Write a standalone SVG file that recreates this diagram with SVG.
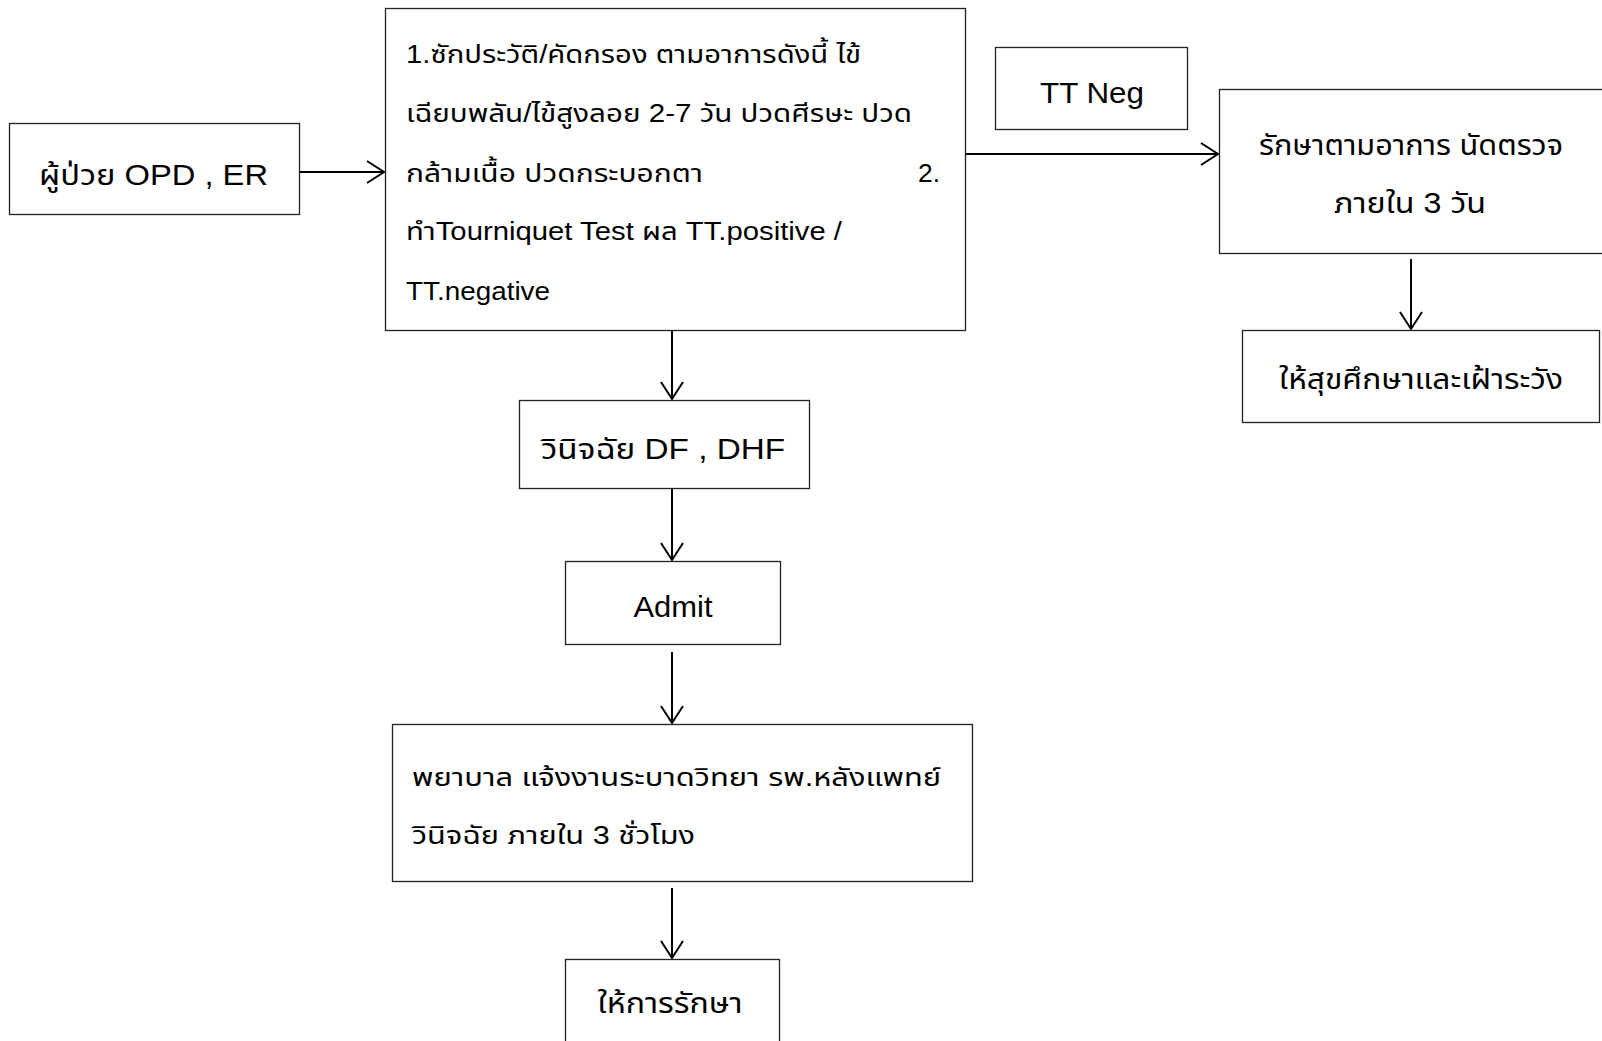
<svg xmlns="http://www.w3.org/2000/svg" width="1602" height="1041" viewBox="0 0 1602 1041">
<style>
.box{fill:#fff;stroke:#222;stroke-width:1.3}
.t{font-family:"Liberation Sans","Noto Sans Thai","Noto Sans",sans-serif;fill:#000}
.big{font-size:29px}
.mid{font-size:25.5px}
.c{text-anchor:middle}
.con{stroke:#000;stroke-width:2;fill:none}
</style>
<defs>
<marker id="arr" markerUnits="userSpaceOnUse" markerWidth="20" markerHeight="26" refX="18" refY="12" orient="auto">
<path d="M1,1 L18,12 L1,23" fill="none" stroke="#000" stroke-width="2"/>
</marker>
</defs>
<rect width="1602" height="1041" fill="#fff"/>
<g id="connectors">
<line class="con" x1="299" y1="172" x2="384" y2="172" marker-end="url(#arr)"/>
<line class="con" x1="966" y1="154" x2="1218" y2="154" marker-end="url(#arr)"/>
<line class="con" x1="1411" y1="259" x2="1411" y2="329" marker-end="url(#arr)"/>
<line class="con" x1="672" y1="330" x2="672" y2="399" marker-end="url(#arr)"/>
<line class="con" x1="672" y1="488" x2="672" y2="560" marker-end="url(#arr)"/>
<line class="con" x1="672" y1="652" x2="672" y2="723" marker-end="url(#arr)"/>
<line class="con" x1="672" y1="888" x2="672" y2="958" marker-end="url(#arr)"/>
</g>
<g id="n1">
<rect class="box" x="9.5" y="123.5" width="290" height="91"/>
<text class="t big" x="39" y="185" textLength="229" lengthAdjust="spacingAndGlyphs">ผู้ป่วย OPD , ER</text>
</g>
<g id="n2">
<rect class="box" x="385.5" y="8.5" width="580" height="322"/>
<text class="t mid" x="406" y="63" textLength="455" lengthAdjust="spacingAndGlyphs">1.ซักประวัติ/คัดกรอง ตามอาการดังนี้ ไข้</text>
<text class="t mid" x="406" y="122" textLength="506" lengthAdjust="spacingAndGlyphs">เฉียบพลัน/ไข้สูงลอย 2-7 วัน ปวดศีรษะ ปวด</text>
<text class="t mid" x="406" y="182" textLength="297" lengthAdjust="spacingAndGlyphs">กล้ามเนื้อ ปวดกระบอกตา</text>
<text class="t mid" x="918" y="182" textLength="22" lengthAdjust="spacingAndGlyphs">2.</text>
<text class="t mid" x="406" y="240" textLength="436" lengthAdjust="spacingAndGlyphs">ทำTourniquet Test ผล TT.positive /</text>
<text class="t mid" x="406" y="300" textLength="144" lengthAdjust="spacingAndGlyphs">TT.negative</text>
</g>
<g id="n3">
<rect class="box" x="995.5" y="47.5" width="192" height="82"/>
<text class="t big" x="1040" y="103" textLength="104" lengthAdjust="spacingAndGlyphs">TT Neg</text>
</g>
<g id="n4">
<rect class="box" x="1219.5" y="89.5" width="390" height="164"/>
<text class="t big c" x="1411" y="155" textLength="304" lengthAdjust="spacingAndGlyphs">รักษาตามอาการ นัดตรวจ</text>
<text class="t big c" x="1410" y="213" textLength="152" lengthAdjust="spacingAndGlyphs">ภายใน 3 วัน</text>
</g>
<g id="n5">
<rect class="box" x="1242.5" y="330.5" width="357" height="92"/>
<text class="t big c" x="1421" y="389" textLength="284" lengthAdjust="spacingAndGlyphs">ให้สุขศึกษาและเฝ้าระวัง</text>
</g>
<g id="n6">
<rect class="box" x="519.5" y="400.5" width="290" height="88"/>
<text class="t big c" x="663" y="459" textLength="244" lengthAdjust="spacingAndGlyphs">วินิจฉัย DF , DHF</text>
</g>
<g id="n7">
<rect class="box" x="565.5" y="561.5" width="215" height="83"/>
<text class="t big c" x="673" y="617" textLength="79" lengthAdjust="spacingAndGlyphs">Admit</text>
</g>
<g id="n8">
<rect class="box" x="392.5" y="724.5" width="580" height="157"/>
<text class="t mid" x="412" y="786" textLength="529" lengthAdjust="spacingAndGlyphs">พยาบาล แจ้งงานระบาดวิทยา รพ.หลังแพทย์</text>
<text class="t mid" x="412" y="844" textLength="283" lengthAdjust="spacingAndGlyphs">วินิจฉัย ภายใน 3 ชั่วโมง</text>
</g>
<g id="n9">
<rect class="box" x="565.5" y="959.5" width="214" height="100"/>
<text class="t big c" x="670" y="1013" textLength="145" lengthAdjust="spacingAndGlyphs">ให้การรักษา</text>
</g>
</svg>
